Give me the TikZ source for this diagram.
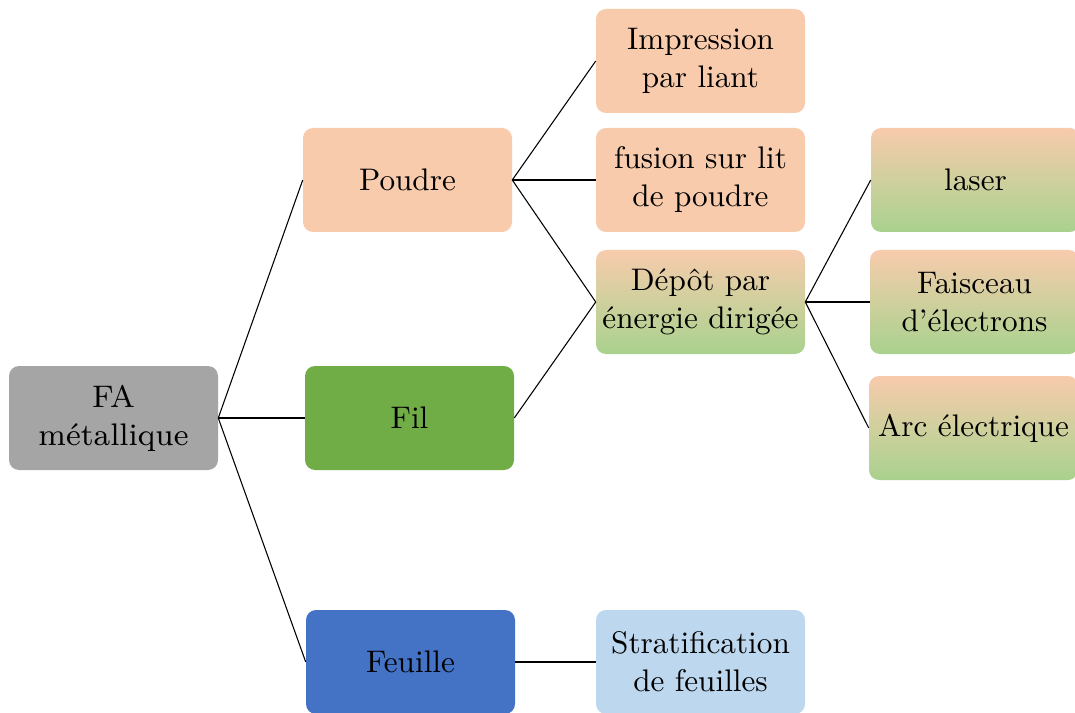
\documentclass[tikz,border=0pt]{standalone}
\usepackage{fontspec}
\newfontfamily\lmten{lmroman10-regular.otf}
\newfontfamily\lmeight{lmroman8-regular.otf}
\begin{document}
\begin{tikzpicture}[x=0.75pt,y=-0.75pt,
  box/.style={rectangle, rounded corners=7.5pt, minimum width=156.75pt, minimum height=78pt,
    inner sep=0pt, align=center, font=\lmten\fontsize{23.4}{28.5}\selectfont, text=black},
  grey/.style={box, fill=boxgrey, font=\lmeight\fontsize{23.4}{28.5}\selectfont},
  peach/.style={box, fill=boxpeach},
  green/.style={box, fill=boxgreen},
  blue/.style={box, fill=boxblue},
  lblue/.style={box, fill=boxlblue},
  grad/.style={box, top color=boxpeach, bottom color=boxlgreen, middle color=boxmid},
  link/.style={draw=black, line width=0.8pt}]
\definecolor{boxgrey}{HTML}{A5A5A5}
\definecolor{boxpeach}{HTML}{F8CBAD}
\definecolor{boxgreen}{HTML}{70AD47}
\definecolor{boxblue}{HTML}{4472C4}
\definecolor{boxlblue}{HTML}{BDD7EE}
\definecolor{boxlgreen}{HTML}{A9D18E}
\definecolor{boxmid}{HTML}{CFD09D}
\useasboundingbox (0,0) rectangle (1075,713);

\node[grey]  (fa)   at (113.5,418) {FA\\métallique};
\node[peach] (poud) at (407.5,180) {Poudre};
\node[green] (fil)  at (409.5,418) {Fil};
\node[blue]  (feu)  at (410.5,662) {Feuille};

\node[peach] (imp)  at (700.5,61)  {Impression\\par liant};
\node[peach] (fus)  at (700.5,180) {fusion sur lit\\de poudre};
\node[grad]  (dep)  at (700.5,302) {Dépôt par\\énergie dirigée};
\node[lblue] (str)  at (700.5,662) {Stratification\\de feuilles};

\node[grad]  (las)  at (975.5,180) {laser};
\node[grad]  (fai)  at (974.5,302) {Faisceau\\d’électrons};
\node[grad]  (arc)  at (973.5,428) {Arc électrique};

\draw[link] (fa.east) -- (poud.west);
\draw[link] (fa.east) -- (fil.west);
\draw[link] (fa.east) -- (feu.west);
\draw[link] (poud.east) -- (imp.west);
\draw[link] (poud.east) -- (fus.west);
\draw[link] (poud.east) -- (dep.west);
\draw[link] (fil.east) -- (dep.west);
\draw[link] (feu.east) -- (str.west);
\draw[link] (dep.east) -- (las.west);
\draw[link] (dep.east) -- (fai.west);
\draw[link] (dep.east) -- (arc.west);
\end{tikzpicture}
\end{document}
